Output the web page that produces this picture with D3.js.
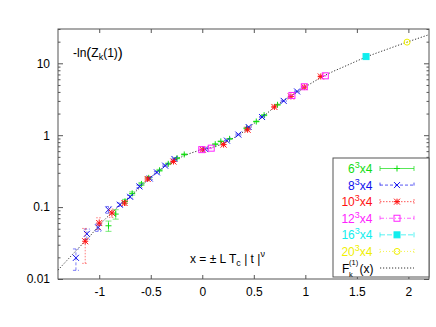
<!DOCTYPE html>
<html>
<head>
<meta charset="utf-8">
<script src="https://cdn.jsdelivr.net/npm/d3@7"></script>
<style>
  body { margin: 0; background: #fff; }
  svg { font-family: "Liberation Sans", Arial, Helvetica, sans-serif; }
</style>
</head>
<body>
<svg id="chart" width="436" height="327"></svg>
<script>
// data: [x, value, error]
var s6  = [[-0.91,0.055,0.009],[-0.84,0.080,0.012],[-0.75,0.12,0.008],[-0.68,0.155,0.008],[-0.59,0.21,0.01],
           [-0.52,0.255,0.01],[-0.415,0.325,0.01],[-0.33,0.40,0.01],[-0.245,0.48,0.01],[-0.175,0.54,0.01],
           [0.126,0.75,0.01],[0.18,0.82,0.01],[0.265,0.89,0.01],[0.43,1.25,0.02],[0.524,1.55,0.02],
           [0.60,1.9,0.03],[0.73,2.65,0.04]];
var s8  = [[-1.226,0.0197,0.0065],[-1.12,0.0425,0.007],[-1.01,0.052,0.006],[-0.91,0.092,0.01],[-0.80,0.108,0.006],
           [-0.70,0.139,0.006],[-0.61,0.194,0.008],[-0.51,0.25,0.008],[-0.44,0.304,0.008],[-0.36,0.377,0.008],
           [-0.27,0.467,0.01],[0.03,0.64,0.01],[0.24,0.84,0.01],[0.35,1.02,0.02],[0.45,1.3,0.02],
           [0.58,1.79,0.03],[0.79,3.0,0.05],[0.92,4.06,0.06]];
var s10 = [[-1.136,0.0335,0.017],[-1.0,0.060,0.011],[-0.877,0.083,0.011],[-0.754,0.114,0.008],[-0.53,0.246,0.01],
           [-0.28,0.43,0.01],[0.005,0.63,0.015],[0.207,0.74,0.015],[0.44,1.19,0.02],[0.70,2.47,0.05],
           [0.86,3.46,0.06],[0.99,4.67,0.08],[1.15,6.56,0.1]];
var s12 = [[-0.005,0.63,0.01],[0.087,0.66,0.01],[0.87,3.57,0.05],[0.99,4.72,0.06],[1.194,6.7,0.08]];
var s16 = [[1.589,12.4,0.2]];
var s20 = [[1.987,19.7,0.3]];

// scaling function F_k^(1)(x)
var curveX = [-1.4,-1.3,-1.2,-1.1,-1.0,-0.9,-0.8,-0.7,-0.6,-0.5,-0.4,-0.3,-0.2,-0.1,0.0,0.1,0.2,0.3,0.4,0.5,
              0.6,0.7,0.8,0.9,1.0,1.2,1.4,1.6,1.8,2.0,2.2];
var curveY = [0.0133,0.019,0.027,0.038,0.056,0.078,0.106,0.14,0.19,0.26,0.34,0.42,0.50,0.57,0.63,0.68,0.76,0.91,1.12,1.45,
              1.87,2.45,3.1,3.8,4.7,6.9,9.3,12.4,15.8,20,25];

var xTicks = [-1,-0.5,0,0.5,1,1.5,2];
var yTicks = [0.01,0.1,1,10];

var series = [
  {name:'6',  data:s6,  color:'#11dd11', dash:null,      sym:'plus'},
  {name:'8',  data:s8,  color:'#1010ee', dash:'3,2',     sym:'cross'},
  {name:'10', data:s10, color:'#ff1111', dash:'1.5,1.5', sym:'star'},
  {name:'12', data:s12, color:'#ff22ff', dash:'4,2,1,2', sym:'square'},
  {name:'16', data:s16, color:'#11eeee', dash:'5,2',     sym:'fsquare'},
  {name:'20', data:s20, color:'#f0f000', dash:'1,2',     sym:'circle'}
];

var svg = d3.select('#chart');
var L = 58, R = 429, T = 29, B = 279;

var x = d3.scaleLinear().domain([-1.4, 2.2]).range([L, R]);
var y = d3.scaleLog().domain([0.01, 30]).range([B, T]);

// minor ticks for log axis
var minor = [];
[0.01,0.1,1,10].forEach(function(d){
  for (var k = 2; k <= 9; k++) { if (d*k <= 30) minor.push(d*k); }
});

var fmt = function(d){ return d < 0 ? '-' + Math.abs(d) : String(d); };

svg.append('g').attr('transform','translate(0,'+B+')')
  .call(d3.axisBottom(x).tickValues(xTicks).tickSize(-4).tickPadding(8).tickFormat(fmt));
svg.append('g').attr('transform','translate(0,'+T+')')
  .call(d3.axisTop(x).tickValues(xTicks).tickSize(-4).tickFormat(''));
svg.append('g').attr('transform','translate('+L+',0)')
  .call(d3.axisLeft(y).tickValues(yTicks).tickSize(-5).tickPadding(8).tickFormat(function(d){ return String(d); }));
svg.append('g').attr('transform','translate('+L+',0)')
  .call(d3.axisLeft(y).tickValues(minor).tickSize(-2.5).tickFormat(''));
svg.append('g').attr('transform','translate('+R+',0)')
  .call(d3.axisRight(y).tickValues(yTicks).tickSize(-5).tickFormat(''));
svg.append('g').attr('transform','translate('+R+',0)')
  .call(d3.axisRight(y).tickValues(minor).tickSize(-2.5).tickFormat(''));

svg.selectAll('.domain').remove();
svg.selectAll('.tick line').attr('stroke','#555');
svg.selectAll('.tick text').attr('font-size',12).attr('fill','#000')
  .attr('font-family','"Liberation Sans", Arial, sans-serif');

svg.append('rect').attr('x',L).attr('y',T).attr('width',R-L).attr('height',B-T)
  .attr('fill','none').attr('stroke','#555').attr('stroke-width',1);

var plot = svg.append('g');

// curve
var line = d3.line().x(function(d){ return x(d[0]); }).y(function(d){ return y(d[1]); })
  .curve(d3.curveMonotoneX);
plot.append('path').datum(curveX.map(function(v,i){ return [v, curveY[i]]; }))
  .attr('d', line).attr('fill','none').attr('stroke','#333').attr('stroke-width',1)
  .attr('stroke-dasharray','1.2,1.8');

function symbol(g, type, cx, cy, color, r) {
  if (type === 'plus' || type === 'star') {
    g.append('path').attr('d','M'+(cx-r)+','+cy+'H'+(cx+r)+'M'+cx+','+(cy-r)+'V'+(cy+r))
      .attr('stroke',color).attr('stroke-width',1).attr('fill','none');
  }
  if (type === 'cross' || type === 'star') {
    g.append('path').attr('d','M'+(cx-r)+','+(cy-r)+'L'+(cx+r)+','+(cy+r)+'M'+(cx-r)+','+(cy+r)+'L'+(cx+r)+','+(cy-r))
      .attr('stroke',color).attr('stroke-width',1).attr('fill','none');
  }
  if (type === 'square' || type === 'fsquare') {
    g.append('rect').attr('x',cx-r).attr('y',cy-r).attr('width',2*r).attr('height',2*r)
      .attr('stroke',color).attr('stroke-width',1).attr('fill', type === 'fsquare' ? color : 'none');
  }
  if (type === 'circle') {
    g.append('circle').attr('cx',cx).attr('cy',cy).attr('r',r)
      .attr('stroke',color).attr('stroke-width',1).attr('fill','none');
  }
}

series.forEach(function(s){
  var g = plot.append('g');
  s.data.forEach(function(d){
    var cx = x(d[0]), y0 = y(d[1] - d[2]), y1 = y(d[1] + d[2]);
    g.append('path')
      .attr('d','M'+cx+','+y0+'V'+y1+'M'+(cx-3)+','+y0+'H'+(cx+3)+'M'+(cx-3)+','+y1+'H'+(cx+3))
      .attr('stroke',s.color).attr('stroke-width',1).attr('fill','none')
      .attr('stroke-dasharray',s.dash).attr('opacity',0.55);
    symbol(g, s.sym, cx, y(d[1]), s.color, 3);
  });
});

// labels
var t1 = svg.append('text').attr('x',73).attr('y',57).attr('font-size',12);
t1.append('tspan').text('-ln');
t1.append('tspan').attr('font-size',15).attr('dy',1).text('(');
t1.append('tspan').attr('font-size',12).attr('dy',-1).text('Z');
t1.append('tspan').attr('font-size',9).attr('dy',3).text('k');
t1.append('tspan').attr('font-size',12).attr('dy',-3).text('(1)');
t1.append('tspan').attr('font-size',15).attr('dy',1).text(')');

var t2 = svg.append('text').attr('x',190).attr('y',263).attr('font-size',12);
t2.append('tspan').text('x = ');
t2.append('tspan').text('\u00b1');
t2.append('tspan').text(' L T');
t2.append('tspan').attr('font-size',9).attr('dy',3).text('c');
t2.append('tspan').attr('dy',-3).text(' | t |');
t2.append('tspan').attr('font-size',9).attr('dy',-6).text('\u03bd');

// legend
var lg = svg.append('g');
lg.append('rect').attr('x',333).attr('y',158).attr('width',R-333).attr('height',119)
  .attr('fill','#fff').attr('stroke','#555');
var rowY = d3.scaleLinear().domain([0, 6]).range([168.5, 268]);
series.forEach(function(s, i){
  var yy = rowY(i);
  var tx = lg.append('text').attr('x',372.5).attr('y',yy+4.5).attr('text-anchor','end')
    .attr('font-size',12).attr('fill',s.color);
  tx.append('tspan').text(s.name);
  tx.append('tspan').attr('font-size',9).attr('dy',-5).text('3');
  tx.append('tspan').attr('dy',5).text('x4');
  lg.append('path').attr('d','M380,'+yy+'H414M380,'+(yy-2.5)+'V'+(yy+2.5)+'M414,'+(yy-2.5)+'V'+(yy+2.5))
    .attr('stroke',s.color).attr('stroke-width',1).attr('fill','none')
    .attr('stroke-dasharray',s.dash).attr('opacity',0.7);
  symbol(lg, s.sym, 397, yy, s.color, 3);
});
var yf = rowY(6);
// F with stacked super/subscript, as separate texts so they don't collide
lg.append('text').attr('x',342).attr('y',yf+4.5).attr('font-size',12).text('F');
lg.append('text').attr('x',349).attr('y',yf-3).attr('font-size',7.5).text('(1)');
lg.append('text').attr('x',349).attr('y',yf+8.5).attr('font-size',7.5).text('k');
lg.append('text').attr('x',359.5).attr('y',yf+4.5).attr('font-size',12).text('(x)');
lg.append('path').attr('d','M380,'+yf+'H414').attr('stroke','#333').attr('stroke-width',1)
  .attr('stroke-dasharray','1.2,1.8');
</script>
</body>
</html>
